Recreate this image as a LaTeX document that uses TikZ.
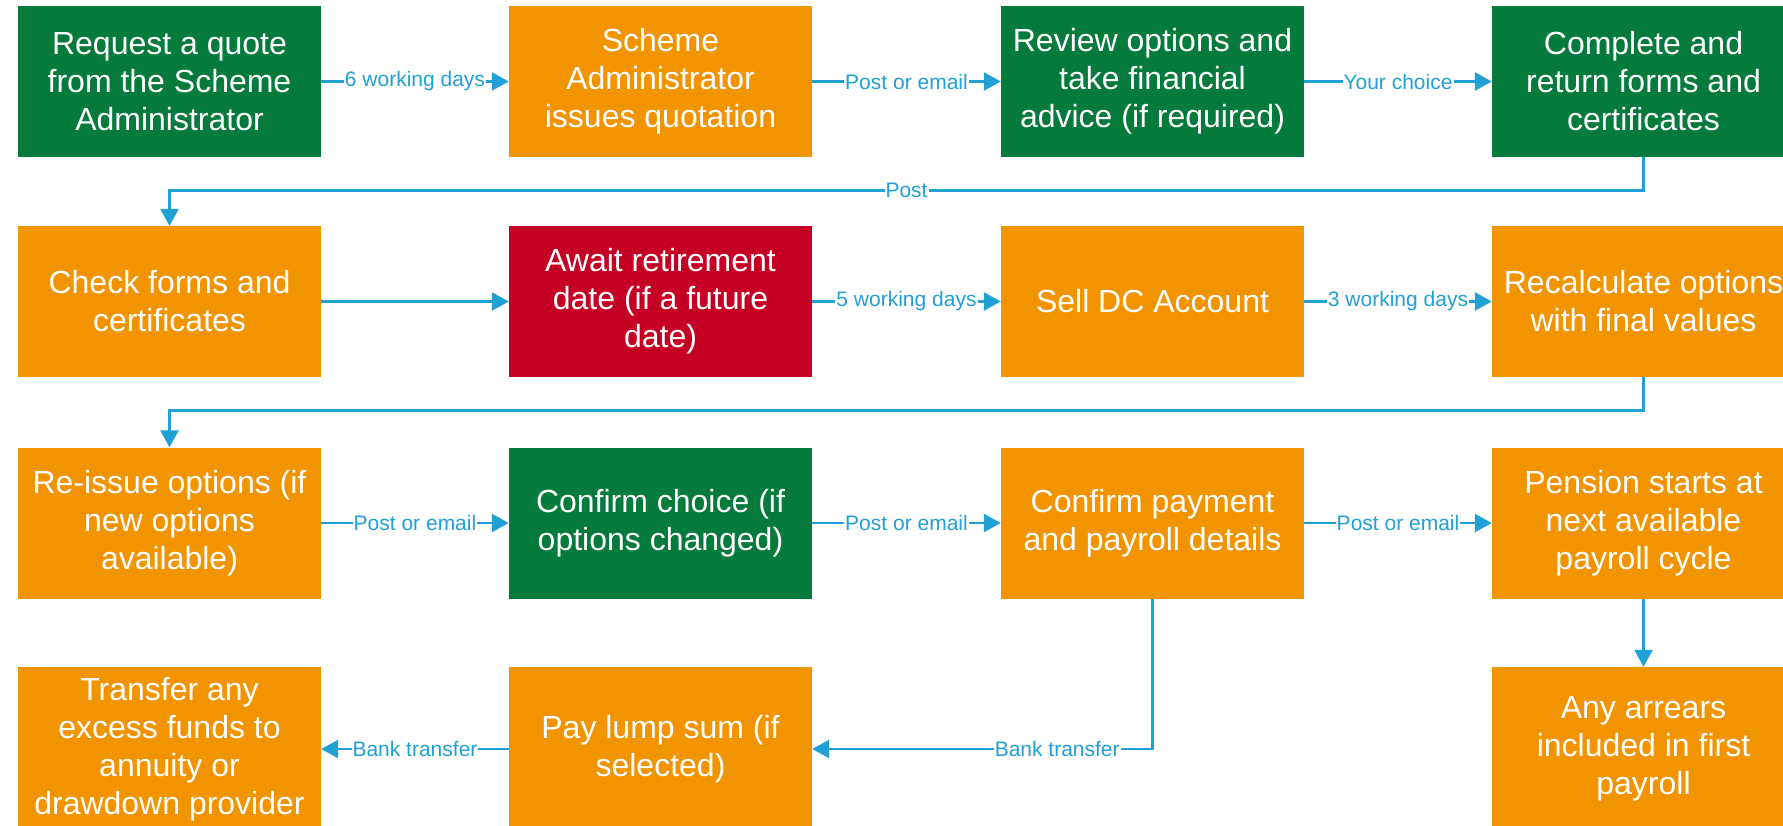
\documentclass[tikz,border=0pt]{standalone}
\usepackage{fontspec}
\setmainfont{Liberation Sans}
\usetikzlibrary{arrows.meta,calc}
\definecolor{sgreen}{RGB}{4,122,60}
\definecolor{sorange}{RGB}{242,148,0}
\definecolor{sred}{RGB}{198,0,36}
\definecolor{sblue}{RGB}{33,160,214}
\tikzset{
  box/.style={rectangle, minimum width=303pt, minimum height=151pt, text=white,
    font=\fontsize{32}{38}\selectfont, align=center, inner sep=0pt},
  gbox/.style={box, fill=sgreen},
  obox/.style={box, fill=sorange},
  rbox/.style={box, fill=sred},
  lastrow/.style={minimum height=164pt},
  conn/.style={draw=sblue, line width=2.6pt, -{Triangle[length=17pt,width=18pt]}},
  lbl/.style={fill=white, text=sblue, font=\fontsize{21}{25}\selectfont, inner xsep=1pt, inner ysep=1pt}
}
\begin{document}
\begin{tikzpicture}[x=1pt,y=-1pt]
\fill[white] (0,0) rectangle (1783,825);
\useasboundingbox (0,0) rectangle (1783,825);
% row 1
\node[gbox] (n1) at (169.5,81.5) {Request a quote\\from the Scheme\\Administrator};
\node[obox] (n2) at (660.5,81.5) {Scheme\\Administrator\\issues quotation};
\node[gbox] (n3) at (1152.5,81.5) {Review options and\\take financial\\advice (if required)};
\node[gbox] (n4) at (1643.5,81.5) {Complete and\\return forms and\\certificates};
% row 2
\node[obox] (n5) at (169.5,301.5) {Check forms and\\certificates};
\node[rbox] (n6) at (660.5,301.5) {Await retirement\\date (if a future\\date)};
\node[obox] (n7) at (1152.5,301.5) {Sell DC Account};
\node[obox] (n8) at (1643.5,301.5) {Recalculate options\\with final values};
% row 3
\node[obox] (n9) at (169.5,523) {Re-issue options (if\\new options\\available)};
\node[gbox] (n10) at (660.5,523) {Confirm choice (if\\options changed)};
\node[obox] (n11) at (1152.5,523) {Confirm payment\\and payroll details};
\node[obox] (n12) at (1643.5,523) {Pension starts at\\next available\\payroll cycle};
% row 4
\node[obox,lastrow] (n13) at (169.5,749) {Transfer any\\excess funds to\\annuity or\\drawdown provider};
\node[obox,lastrow] (n14) at (660.5,749) {Pay lump sum (if\\selected)};
\node[obox,lastrow] (n16) at (1643.5,749) {Any arrears\\included in first\\payroll};
% connectors row 1
\draw[conn] (n1) -- node[lbl]{6 working days} (n2);
\draw[conn] (n2) -- node[lbl]{Post or email} (n3);
\draw[conn] (n3) -- node[lbl]{Your choice} (n4);
\coordinate (p1) at ($(n4.south)+(0,33)$);
\coordinate (p2) at (n5.north |- p1);
\draw[conn] (n4.south) -- (p1) -- node[lbl]{Post} (p2) -- (n5.north);
% row 2
\draw[conn] (n5) -- (n6);
\draw[conn] (n6) -- node[lbl]{5 working days} (n7);
\draw[conn] (n7) -- node[lbl]{3 working days} (n8);
\coordinate (q1) at ($(n8.south)+(0,33)$);
\coordinate (q2) at (n9.north |- q1);
\draw[conn] (n8.south) -- (q1) -- (q2) -- (n9.north);
% row 3
\draw[conn] (n9) -- node[lbl]{Post or email} (n10);
\draw[conn] (n10) -- node[lbl]{Post or email} (n11);
\draw[conn] (n11) -- node[lbl]{Post or email} (n12);
\draw[conn] (n12) -- (n16);
% row 4
\coordinate (b1) at (n11.south |- n14.east);
\draw[conn] (n11.south) -- (b1) -- node[lbl,pos=0.28]{Bank transfer} (n14.east);
\draw[conn] (n14) -- node[lbl]{Bank transfer} (n13);
\end{tikzpicture}
\end{document}
